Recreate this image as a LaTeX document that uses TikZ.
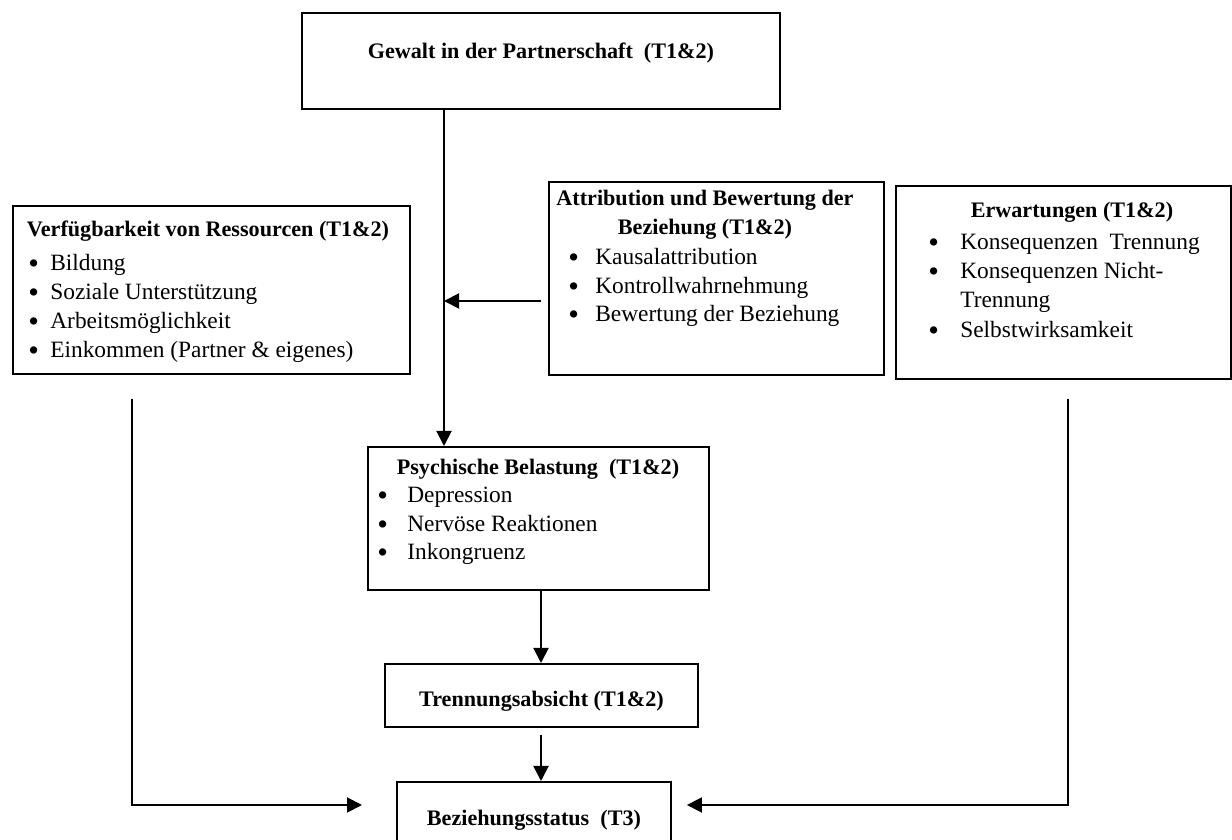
\documentclass[tikz,border=0pt]{standalone}
\usepackage{fontspec}
\setmainfont{Liberation Serif}
\usetikzlibrary{positioning,arrows.meta}
\newcommand{\bul}[1]{\makebox[#1][l]{\raisebox{-0.11em}{\scalebox{1.3}{\textbullet}}}}

\begin{document}
\begin{tikzpicture}[
		box/.style 2 args={draw, line width=1.1pt, minimum width=#1, minimum height=#2, inner sep=0pt, anchor=north west},
		head/.style={font=\fontsize{12.6}{16.5}\selectfont\bfseries, inner sep=0pt, anchor=base},
		item/.style={font=\fontsize{13.3}{16.5}\selectfont, inner sep=0pt, anchor=base west},
		arr/.style={line width=1.1pt, -{Triangle[length=0.3cm,width=0.3cm]}}
	]
			%%%%% START %%%%%
			\useasboundingbox (0,0) rectangle (24.64,16.8);
			
			% top box
			\node[box={9.56cm}{1.92cm}, font=\fontsize{12.6}{16.5}\selectfont\bfseries, text height=0.35cm, text depth=0.43cm] (viol) at (6.02,16.56) {Gewalt in der Partnerschaft\ \ (T1\&2)};
			
			% resources
			\node[box={7.94cm}{3.36cm}] (res) at (0.24,12.7) {};
			\node[head] (resh) at (4.16,12.06) {Verfügbarkeit von Ressourcen (T1\&2)};
			\foreach \t [count=\i] in {Bildung, Soziale Unterstützung, Arbeitsmöglichkeit, Einkommen (Partner \& eigenes)}
				\node[item] (res\i) at (0.56,{11.38-0.58*(\i-1)}) {\bul{0.44cm}\t};
			
			% attribution
			\node[box={6.70cm}{3.86cm}] (attr) at (10.96,13.18) {};
			\node[head, anchor=center, align=center] (attrh) at (14.1,12.5) {Attribution und Bewertung der\\Beziehung (T1\&2)};
			\foreach \t [count=\i] in {Kausalattribution, Kontrollwahrnehmung, Bewertung der Beziehung}
				\node[item] (attr\i) at (11.36,{11.5-0.57*(\i-1)}) {\bul{0.54cm}\t};
			
			% expectations
			\node[box={6.70cm}{3.86cm}] (exp) at (17.9,13.1) {};
			\node[head] (exph) at (21.44,12.44) {Erwartungen (T1\&2)};
			\node[item] (exp1) at (18.56,11.80) {\bul{0.64cm}Konsequenzen\ \ Trennung};
			\node[item] (exp2) at (18.56,11.22) {\bul{0.64cm}Konsequenzen Nicht-};
			\node[item] (exp3) at (19.20,10.64) {Trennung};
			\node[item] (exp4) at (18.56,10.04) {\bul{0.64cm}Selbstwirksamkeit};
			
			% strain
			\node[box={6.82cm}{2.86cm}] (psy) at (7.34,7.88) {};
			\node[head] (psyh) at (10.76,7.3) {Psychische Belastung\ \ (T1\&2)};
			\foreach \t [count=\i] in {Depression, Nervöse Reaktionen, Inkongruenz}
				\node[item] (psy\i) at (7.54,{6.74-0.57*(\i-1)}) {\bul{0.6cm}\t};
			
			% intention and status
			\node[box={6.26cm}{1.26cm}, font=\fontsize{12.6}{16.5}\selectfont\bfseries, text height=0.56cm, text depth=0.1cm] (sep) at (7.68,3.54) {Trennungsabsicht (T1\&2)};
			\node[box={5.48cm}{1.26cm}, font=\fontsize{12.6}{16.5}\selectfont\bfseries, text height=0.6cm, text depth=0.1cm] (stat) at (7.92,1.18) {Beziehungsstatus\ \ (T3)};
			
			% connectors
			\coordinate (vx) at (8.88,0);
			\coordinate (mx) at (10.82,0);
			\coordinate (aj) at (8.88,10.78);
			\coordinate (lc) at (2.64,0.7);
			\coordinate (rc) at (21.36,0.7);
			
			\draw[arr] (viol.south -| vx) -- (psy.north -| vx);
			\draw[arr, shorten <=0.14cm] (aj -| attr.west) -- (aj);
			\draw[arr] (psy.south -| mx) -- (sep.north -| mx);
			\draw[arr, shorten <=0.14cm] (sep.south -| mx) -- (stat.north -| mx);
			\draw[arr, shorten <=0.48cm, shorten >=0.68cm] (res.south -| lc) |- (lc -| stat.west);
			\draw[arr, shorten <=0.38cm, shorten >=0.3cm] (exp.south -| rc) |- (rc -| stat.east);
			
			%%%%% END %%%%%
		\end{tikzpicture}
\end{document}
